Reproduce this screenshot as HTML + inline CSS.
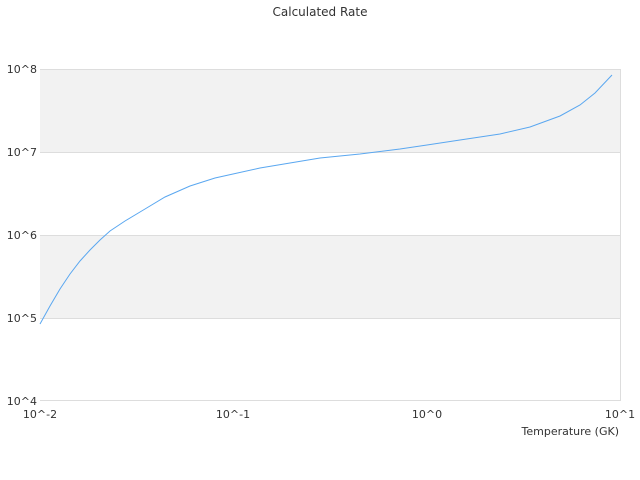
<!DOCTYPE html>
<html><head><meta charset="utf-8"><style>
html,body{margin:0;padding:0;background:#fff;}
svg{display:block;font-family:"DejaVu Sans","Liberation Sans",sans-serif;}
</style></head><body>
<svg width="640" height="480" viewBox="0 0 640 480">
<rect x="0" y="0" width="640" height="480" fill="#fff"/>
<text x="320" y="16" font-size="12" text-anchor="middle" fill="#333">Calculated Rate</text>
<rect x="40" y="69" width="580" height="83" fill="#f2f2f2"/>
<rect x="40" y="235" width="580" height="83" fill="#f2f2f2"/>
<g stroke="#ddd" stroke-width="1">
<line x1="40" y1="69.5" x2="620" y2="69.5"/>
<line x1="40" y1="152.5" x2="620" y2="152.5"/>
<line x1="40" y1="235.5" x2="620" y2="235.5"/>
<line x1="40" y1="318.5" x2="620" y2="318.5"/>
<line x1="40" y1="400.5" x2="620" y2="400.5"/>
<line x1="620.5" y1="69" x2="620.5" y2="401"/>
</g>
<g font-size="11" fill="#333" text-anchor="end">
<text x="37" y="73">10^8</text>
<text x="37" y="156">10^7</text>
<text x="37" y="239">10^6</text>
<text x="37" y="322">10^5</text>
<text x="37" y="405">10^4</text>
</g>
<g font-size="11" fill="#333" text-anchor="middle">
<text x="40" y="418">10^-2</text>
<text x="233" y="418">10^-1</text>
<text x="427" y="418">10^0</text>
<text x="620" y="418">10^1</text>
</g>
<text x="619" y="435" font-size="11" fill="#333" text-anchor="end">Temperature (GK)</text>
<polyline fill="none" stroke="#5aa7f0" stroke-width="1" points="40,324 50,306 60,289 70,274 80,261 90,250 100,240 110,231 125,221 145,209 165,197 190,186 215,178 233,174 260,168 290,163 320,158 360,154 400,149 427,145 460,140 500,134 530,127 560,116 580,105 595,93 612,75"/>
</svg>
</body></html>
